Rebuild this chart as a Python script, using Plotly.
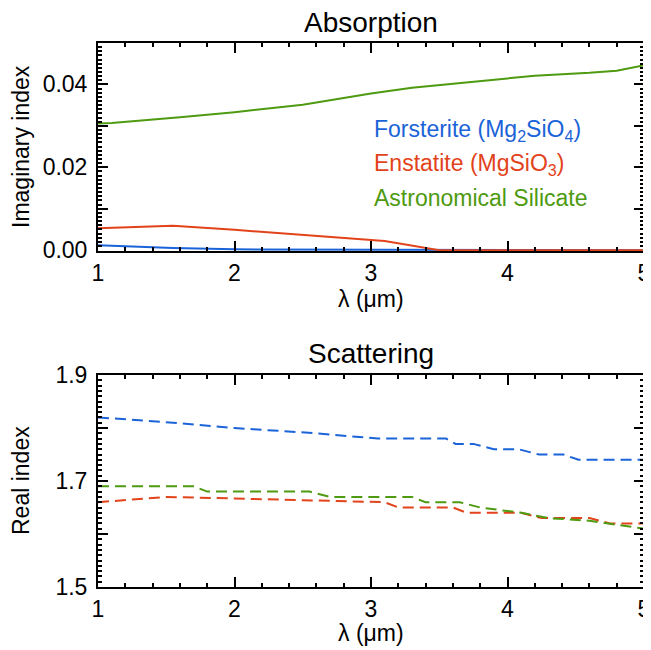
import plotly.graph_objects as go

# ---------------- data ----------------
# Absorption (imaginary index)
forst_k_x = [1.0, 1.55, 2.0, 3.0, 4.0, 5.0]
forst_k = [0.0012, 0.0005, 0.0002, 0.0001, 0.0, 0.0]

enst_k_x = [1.0, 1.55, 2.0, 2.5, 3.1, 3.5, 4.0, 5.0]
enst_k = [0.0053, 0.0059, 0.0049, 0.0036, 0.0022, 0.0, 0.0, 0.0]

astro_k_x = [1.0, 1.1, 1.6, 2.0, 2.5, 3.0, 3.3, 3.6, 4.0, 4.2, 4.6, 4.8, 5.0]
astro_k = [0.0306, 0.0307, 0.0321, 0.0333, 0.0351, 0.0378, 0.0392, 0.0402, 0.0414, 0.0421, 0.0428, 0.0433, 0.0446]

# Scattering (real index)
forst_n_x = [1.0, 1.55, 2.0, 2.6, 3.05, 3.55, 3.62, 3.75, 3.9, 4.08, 4.23, 4.41, 4.52, 5.0]
forst_n = [1.82, 1.81, 1.80, 1.79, 1.78, 1.78, 1.77, 1.77, 1.76, 1.76, 1.75, 1.75, 1.74, 1.74]

enst_n_x = [1.0, 1.5, 2.0, 2.6, 3.1, 3.2, 3.6, 3.7, 4.1, 4.25, 4.6, 4.75, 5.0]
enst_n = [1.66, 1.67, 1.667, 1.663, 1.66, 1.65, 1.65, 1.64, 1.64, 1.63, 1.63, 1.62, 1.62]

astro_n_x = [1.0, 1.7, 1.8, 2.55, 2.7, 3.3, 3.4, 3.65, 3.8, 4.1, 4.3, 4.6, 5.0]
astro_n = [1.69, 1.69, 1.68, 1.68, 1.67, 1.67, 1.66, 1.66, 1.65, 1.64, 1.63, 1.625, 1.61]

x_ticks = [1, 2, 3, 4, 5]
k_ticks = [0.0, 0.01, 0.02, 0.03, 0.04, 0.05]
k_labels = ["0.00", "", "0.02", "", "0.04", ""]
n_ticks = [1.5, 1.6, 1.7, 1.8, 1.9]
n_labels = ["1.5", "", "1.7", "", "1.9"]

labels = ["Forsterite (Mg<sub>2</sub>SiO<sub>4</sub>)",
          "Enstatite (MgSiO<sub>3</sub>)",
          "Astronomical Silicate"]

BLUE = "#1a63d8"
RED = "#e2431a"
GREEN = "#4e9a10"

# page body has an 8px margin: work in window pixels, shift by OFF
OFF = 8
W, H = 651 - OFF, 650 - OFF
X0, X1 = 98, 644
T0, T1 = 43, 251
B0, B1 = 375, 587


def px(x):
    return (x - OFF) / W


def py(y):
    return 1 - (y - OFF) / H


fig = go.Figure()

fig.add_trace(go.Scatter(x=forst_k_x, y=forst_k, mode="lines", line=dict(color=BLUE, width=2), xaxis="x", yaxis="y"))
fig.add_trace(go.Scatter(x=enst_k_x, y=enst_k, mode="lines", line=dict(color=RED, width=2), xaxis="x", yaxis="y"))
fig.add_trace(go.Scatter(x=astro_k_x, y=astro_k, mode="lines", line=dict(color=GREEN, width=2), xaxis="x", yaxis="y"))

dash = "11px,6px"
fig.add_trace(go.Scatter(x=forst_n_x, y=forst_n, mode="lines", line=dict(color=BLUE, width=2, dash=dash), xaxis="x2", yaxis="y2"))
fig.add_trace(go.Scatter(x=enst_n_x, y=enst_n, mode="lines", line=dict(color=RED, width=2, dash=dash), xaxis="x2", yaxis="y2"))
fig.add_trace(go.Scatter(x=astro_n_x, y=astro_n, mode="lines", line=dict(color=GREEN, width=2, dash=dash), xaxis="x2", yaxis="y2"))

FONT = "Liberation Sans, Arial, Helvetica, sans-serif"
TICKF = dict(family=FONT, size=23, color="black")

common_x = dict(range=[1, 5], tickvals=x_ticks, ticks="inside", ticklen=10, tickwidth=1.5,
                tickcolor="black", showline=True, linecolor="black", linewidth=2,
                mirror="allticks", showgrid=False, zeroline=False, tickfont=TICKF,
                minor=dict(ticks="inside", dtick=0.2, ticklen=4, tickcolor="black", tickwidth=1.5),
                ticklabelstandoff=0, automargin=False)

common_y = dict(ticks="inside", ticklen=10, tickwidth=1.5,
                tickcolor="black", showline=True, linecolor="black", linewidth=2,
                mirror="allticks", showgrid=False, zeroline=False, tickfont=TICKF,
                ticklabelstandoff=4, automargin=False)

fig.update_layout(
    width=W, height=H, margin=dict(l=0, r=0, t=0, b=0, autoexpand=False),
    paper_bgcolor="white", plot_bgcolor="white", showlegend=False,
    xaxis=dict(domain=[px(X0), px(X1)], anchor="y", **common_x),
    yaxis=dict(domain=[py(T1), py(T0)], anchor="x", range=[-0.0002, 0.05],
               tickvals=k_ticks, ticktext=k_labels,
               minor=dict(ticks="inside", dtick=0.001, ticklen=4, tickcolor="black", tickwidth=1.5),
               **common_y),
    xaxis2=dict(domain=[px(X0), px(X1)], anchor="y2", **common_x),
    yaxis2=dict(domain=[py(B1), py(B0)], anchor="x2", range=[1.5, 1.9],
                tickvals=n_ticks, ticktext=n_labels,
                minor=dict(ticks="inside", dtick=0.01, ticklen=4, tickcolor="black", tickwidth=1.5),
                **common_y),
)

anns = []
def text(x, y, s, size=23, color="black", xanchor="center", angle=0):
    anns.append(dict(x=px(x), y=py(y), xref="paper", yref="paper", text=s, showarrow=False,
                     xanchor=xanchor, yanchor="middle", textangle=angle,
                     font=dict(family=FONT, size=size, color=color)))

text((X0 + X1) / 2, 22, "Absorption", size=28)
text((X0 + X1) / 2, 353, "Scattering", size=28)
text((X0 + X1) / 2, 299, "λ (μm)", size=23)
text((X0 + X1) / 2, 633, "λ (μm)", size=23)
text(21, (T0 + T1) / 2, "Imaginary index", size=23, angle=-90)
text(21, (B0 + B1) / 2, "Real index", size=23, angle=-90)
text(372, 131, labels[0], size=23, color=BLUE, xanchor="left")
text(372, 164, labels[1], size=23, color=RED, xanchor="left")
text(372, 198, labels[2], size=23, color=GREEN, xanchor="left")
fig.update_layout(annotations=anns)

fig.write_html("out.html")
